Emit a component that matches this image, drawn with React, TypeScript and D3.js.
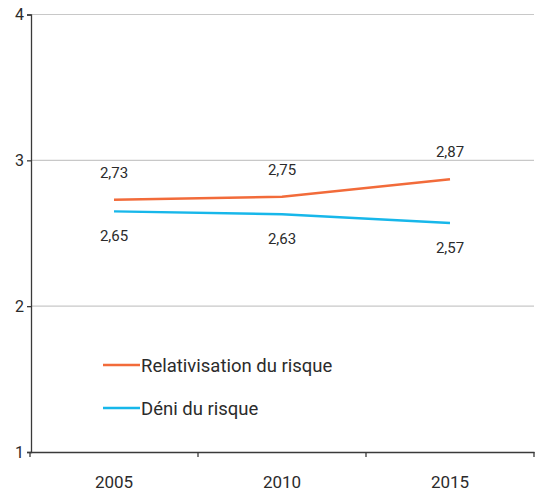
import React, { useEffect, useRef } from "react";
import * as d3 from "d3";

const years = ["2005", "2010", "2015"];
const relativisation = [2.73, 2.75, 2.87];
const deni = [2.65, 2.63, 2.57];
const yTicks = [1, 2, 3, 4];

const series = [
  { name: "Relativisation du risque", values: relativisation, color: "#f26b3a", labelDy: -22 },
  { name: "Déni du risque", values: deni, color: "#17b7ea", labelDy: 30 },
];

export default function App() {
  const ref = useRef<SVGSVGElement>(null);
  const width = 543;
  const height = 494;

  useEffect(() => {
    document.body.style.margin = "0";
    const margin = { top: 14.5, right: 9, bottom: 42, left: 31 };
    const svg = d3.select(ref.current).attr("width", width).attr("height", height);
    svg.selectAll("*").remove();

    const font = "Roboto, 'DejaVu Sans', sans-serif";
    const ink = "#2b2b2b";

    const x = d3
      .scaleBand()
      .domain(years)
      .range([margin.left - 1, width - margin.right]);

    const y = d3
      .scaleLinear()
      .domain([1, 4])
      .range([height - margin.bottom, margin.top]);

    // grid
    svg
      .append("g")
      .selectAll("line")
      .data(yTicks.filter((d) => d > 1))
      .join("line")
      .attr("x1", margin.left)
      .attr("x2", width - margin.right)
      .attr("y1", (d) => y(d))
      .attr("y2", (d) => y(d))
      .attr("stroke", "#c8c8c8")
      .attr("stroke-width", 1.2);

    // y axis
    const yAxis = svg
      .append("g")
      .attr("transform", `translate(${margin.left},0)`)
      .call(d3.axisLeft(y).tickValues(yTicks).tickSize(4).tickPadding(3).tickFormat(d3.format("d")));
    yAxis.select(".domain").attr("stroke", "#3a3a3a").attr("stroke-width", 1.3);
    yAxis.selectAll("line").attr("stroke", "#3a3a3a").attr("stroke-width", 1.3);
    yAxis.selectAll("text").attr("fill", ink).attr("font-size", 16).attr("font-family", font);

    // x axis
    const xAxis = svg
      .append("g")
      .attr("transform", `translate(0,${height - margin.bottom})`)
      .call(d3.axisBottom(x).tickSize(0).tickPadding(24));
    xAxis.select(".domain").attr("stroke", "#3a3a3a").attr("stroke-width", 1.3);
    xAxis.selectAll("text").attr("fill", ink).attr("font-size", 17).attr("font-family", font);

    // boundary ticks between bands
    const edges = [...years.map((d) => x(d)!), x.range()[1]];
    svg
      .append("g")
      .selectAll("line")
      .data(edges)
      .join("line")
      .attr("x1", (d) => d)
      .attr("x2", (d) => d)
      .attr("y1", height - margin.bottom)
      .attr("y2", height - margin.bottom + 5)
      .attr("stroke", "#3a3a3a")
      .attr("stroke-width", 1.3);

    const cx = (d: string) => x(d)! + x.bandwidth() / 2;

    const line = d3
      .line<number>()
      .x((_, i) => cx(years[i]))
      .y((d) => y(d));

    series.forEach((s) => {
      svg
        .append("path")
        .datum(s.values)
        .attr("d", line)
        .attr("fill", "none")
        .attr("stroke", s.color)
        .attr("stroke-width", 2.5);

      svg
        .append("g")
        .selectAll("text")
        .data(s.values)
        .join("text")
        .attr("x", (_, i) => cx(years[i]))
        .attr("y", (d) => y(d) + s.labelDy)
        .attr("text-anchor", "middle")
        .attr("font-size", 15)
        .attr("font-family", font)
        .attr("fill", ink)
        .text((d) => d3.format(".2f")(d).replace(".", ","));
    });

    // legend
    const lg = svg.append("g").attr("transform", "translate(103,365)");
    series.forEach((s, i) => {
      const g = lg.append("g").attr("transform", `translate(0,${i * 43})`);
      g.append("line")
        .attr("x1", 0)
        .attr("x2", 37)
        .attr("stroke", s.color)
        .attr("stroke-width", 2.5);
      g.append("text")
        .attr("x", 38)
        .attr("y", 7)
        .attr("font-size", 18.5)
        .attr("font-family", font)
        .attr("fill", ink)
        .text(s.name);
    });
  }, []);

  return <svg ref={ref} style={{ display: "block" }} />;
}
